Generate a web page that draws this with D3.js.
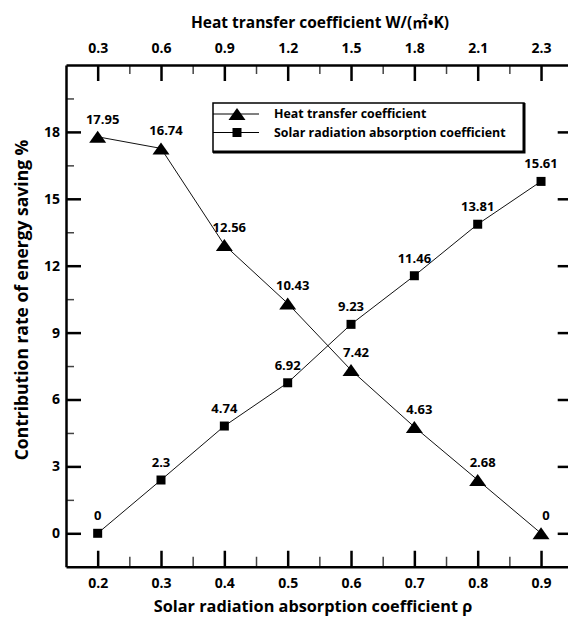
<!DOCTYPE html>
<html>
<head>
<meta charset="utf-8">
<script src="https://cdn.jsdelivr.net/npm/d3@7/dist/d3.min.js"></script>
<style>
  body { margin: 0; background: #fff; }
  svg text { font-family: 'Open Sans', 'Noto Sans CJK SC', sans-serif; font-weight: 700; fill: #000; }
</style>
</head>
<body>
<svg id="chart" width="568" height="617"></svg>
<script>
// Data
var rho = [0.2, 0.3, 0.4, 0.5, 0.6, 0.7, 0.8, 0.9]
var heatValues = [17.78, 17.26, 12.93, 10.31, 7.32, 4.77, 2.39, 0]
var heatLabels = ['17.95', '16.74', '12.56', '10.43', '7.42', '4.63', '2.68', '0']
var solarValues = [0, 2.39, 4.81, 6.75, 9.37, 11.55, 13.86, 15.78]
var solarLabels = ['0', '2.3', '4.74', '6.92', '9.23', '11.46', '13.81', '15.61']
var topTickLabels = ['0.3', '0.6', '0.9', '1.2', '1.5', '1.8', '2.1', '2.3']
var xMinorTicks = [0.25, 0.35, 0.45, 0.55, 0.65, 0.75, 0.85]
var yMajorTicks = [0, 3, 6, 9, 12, 15, 18]
var yMinorTicks = [1.5, 4.5, 7.5, 10.5, 13.5, 16.5, 19.5]
var seriesNames = ['Heat transfer coefficient', 'Solar radiation absorption coefficient']

var svg = d3.select('#chart')

// Scales (plot runs off the right edge of the picture, like the original)
var xPositionScale = d3.scaleLinear().domain([0.15, 0.95]).range([66, 572.7])
var yPositionScale = d3.scaleLinear().domain([-1.5, 21]).range([566.75, 65])

var x0 = xPositionScale.range()[0]
var x1 = xPositionScale.range()[1]
var yTop = yPositionScale.range()[1]
var yBottom = yPositionScale.range()[0]

// Minor ticks first so the frame sits on top
function minorAxis(axis, transform) {
  var g = svg.append('g').attr('transform', transform).call(axis)
  g.select('.domain').remove()
  g.selectAll('.tick line').attr('stroke', '#444').attr('stroke-width', 1.5)
}
minorAxis(d3.axisBottom(xPositionScale).tickValues(xMinorTicks).tickSize(-10).tickFormat(''), `translate(0, ${yBottom})`)
minorAxis(d3.axisTop(xPositionScale).tickValues(xMinorTicks).tickSize(-9).tickFormat(''), `translate(0, ${yTop})`)
minorAxis(d3.axisLeft(yPositionScale).tickValues(yMinorTicks).tickSize(-8).tickFormat(''), `translate(${x0}, 0)`)

function styleAxis(g, size) {
  g.select('.domain').attr('stroke', '#000').attr('stroke-width', 2.5)
  g.selectAll('.tick line').attr('stroke', '#000').attr('stroke-width', 2.5)
  g.selectAll('.tick text').attr('font-size', size)
}

// Bottom axis
var xAxis = d3.axisBottom(xPositionScale).tickValues(rho).tickSize(-16).tickSizeOuter(0).tickPadding(11)
svg.append('g')
  .attr('transform', `translate(0, ${yBottom})`)
  .call(xAxis)
  .call(g => styleAxis(g, 14))

// Top axis (heat transfer coefficient labels)
var topAxis = d3.axisTop(xPositionScale)
  .tickValues(rho)
  .tickSize(-16)
  .tickSizeOuter(0)
  .tickPadding(12)
  .tickFormat((d, i) => topTickLabels[i])
svg.append('g')
  .attr('transform', `translate(0, ${yTop})`)
  .call(topAxis)
  .call(g => styleAxis(g, 14))

// Left axis
var yAxis = d3.axisLeft(yPositionScale).tickValues(yMajorTicks).tickSize(-15).tickSizeOuter(0).tickPadding(6)
svg.append('g')
  .attr('transform', `translate(${x0}, 0)`)
  .call(yAxis)
  .call(g => styleAxis(g, 14))

// Right axis, ticks only
var rightAxis = d3.axisRight(yPositionScale).tickValues(yMajorTicks).tickSize(-15).tickSizeOuter(0).tickFormat('')
svg.append('g')
  .attr('transform', `translate(${x1}, 0)`)
  .call(rightAxis)
  .call(g => styleAxis(g, 14))

// Marker shapes
var triangle = 'M0,-6L8.5,6L-8.5,6Z'
var square = 'M-4.5,-4.5H4.5V4.5H-4.5Z'

var line = d3.line()
  .x(d => xPositionScale(d[0]))
  .y(d => yPositionScale(d[1]))

var series = [
  { values: heatValues, labels: heatLabels, shape: triangle, dx: 5 },
  { values: solarValues, labels: solarLabels, shape: square, dx: 0 }
]

series.forEach(function(s) {
  var points = rho.map((r, i) => [r, s.values[i]])

  svg.append('path')
    .datum(points)
    .attr('d', line)
    .attr('fill', 'none')
    .attr('stroke', '#111')
    .attr('stroke-width', 1)

  svg.selectAll(null)
    .data(points)
    .enter()
    .append('path')
    .attr('d', s.shape)
    .attr('fill', '#000')
    .attr('transform', d => `translate(${xPositionScale(d[0])}, ${yPositionScale(d[1])})`)

  svg.selectAll(null)
    .data(points)
    .enter()
    .append('text')
    .text((d, i) => s.labels[i])
    .attr('x', d => xPositionScale(d[0]) + s.dx)
    .attr('y', d => yPositionScale(d[1]) - 13)
    .attr('font-size', 13)
    .attr('text-anchor', 'middle')
})

// Legend
var legend = svg.append('g')
legend.append('rect')
  .attr('x', 213).attr('y', 103)
  .attr('width', 311).attr('height', 49)
  .attr('fill', '#fff')
  .attr('stroke', '#000')
  .attr('stroke-width', 1.5)
legend.append('path')
  .attr('d', 'M524,103V152H213')
  .attr('fill', 'none')
  .attr('stroke', '#000')
  .attr('stroke-width', 3)

var legendShapes = [triangle, square]
seriesNames.forEach(function(name, i) {
  var ly = 114 + i * 18.5
  legend.append('line')
    .attr('x1', 213).attr('x2', 259)
    .attr('y1', ly).attr('y2', ly)
    .attr('stroke', '#000')
    .attr('stroke-width', 1)
  legend.append('path')
    .attr('d', legendShapes[i])
    .attr('transform', `translate(237, ${ly})`)
    .attr('fill', '#000')
  legend.append('text')
    .text(name)
    .attr('x', 274)
    .attr('y', ly)
    .attr('dy', '0.35em')
    .attr('font-size', 12.4)
})

// Axis titles
svg.append('text')
  .text('Heat transfer coefficient W/(㎡•K)')
  .attr('x', 320)
  .attr('y', 28)
  .attr('font-size', 15.5)
  .attr('text-anchor', 'middle')

svg.append('text')
  .text('Solar radiation absorption coefficient ρ')
  .attr('x', 313)
  .attr('y', 612)
  .attr('font-size', 16.3)
  .attr('text-anchor', 'middle')

svg.append('text')
  .text('Contribution rate of energy saving %')
  .attr('transform', 'translate(28, 300) rotate(-90)')
  .attr('font-size', 17.5)
  .attr('text-anchor', 'middle')
</script>
</body>
</html>
